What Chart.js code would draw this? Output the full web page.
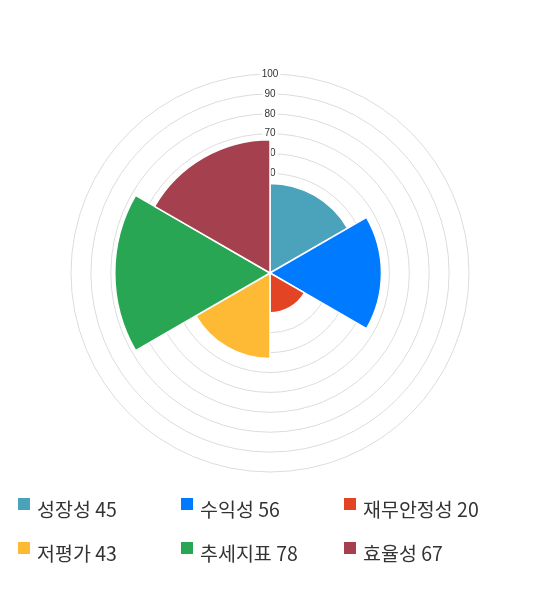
<!DOCTYPE html>
<html>
<head>
<meta charset="utf-8">
<script src="https://cdn.jsdelivr.net/npm/chart.js@4.4.0/dist/chart.umd.min.js"></script>
<style>
	body { margin: 0; background: #fff; width: 540px; height: 590px; position: relative; overflow: hidden; }
	.chart-wrap { position: absolute; left: 0; top: 1px; width: 540px; height: 544px; }
	.legend { position: absolute; left: 18px; top: 494px; width: 522px; font-family: "Noto Sans CJK KR", "Noto Sans", sans-serif; font-size: 19.5px; color: #333; }
	.legend .item { float: left; width: 163px; height: 44px; line-height: 30px; white-space: nowrap; }
	.legend .box { display: inline-block; width: 12px; height: 12px; margin-right: 7px; vertical-align: 7px; }
</style>
</head>
<body>
<div class="chart-wrap"><canvas id="radar-graph"></canvas></div>
<div class="legend" id="legend"></div>
<script>
	var labels = ['성장성', '수익성', '재무안정성', '저평가', '추세지표', '효율성'];
	var scores = [45, 56, 20, 43, 78, 67];
	var colors = ['#4aa2bb', '#007bff', '#e34524', '#ffba35', '#28a654', '#a5404e'];

	// legend as plain html, two rows of three
	var legend = document.getElementById('legend');
	for (var i = 0; i < labels.length; i++) {
		var item = document.createElement('div');
		item.className = 'item';
		item.innerHTML = '<span class="box" style="background:' + colors[i] + '"></span>' + labels[i] + ' ' + scores[i];
		legend.appendChild(item);
	}

	var ctx = document.getElementById('radar-graph').getContext('2d');

	var myPolarChart = new Chart(ctx, {
		type: 'polarArea',
		data: {
			labels: labels,
			datasets: [{
				data: scores,
				backgroundColor: colors,
				borderColor: '#fff',
				borderWidth: 1.5
			}]
		},
		options: {
			responsive: true,
			maintainAspectRatio: false,
			animation: false,
			layout: {
				padding: { top: 66, bottom: 66, left: 64, right: 64 }
			},
			plugins: {
				legend: { display: false },
				tooltip: { enabled: false }
			},
			scales: {
				r: {
					min: 0,
					max: 100,
					ticks: {
						stepSize: 10,
						color: '#333',
						font: { family: 'Liberation Sans', size: 10 },
						backdropColor: '#fff',
						backdropPadding: 2
					},
					grid: { color: '#dcdcdc', lineWidth: 1 },
					angleLines: { display: false },
					pointLabels: { display: false }
				}
			}
		}
	});
</script>
</body>
</html>
